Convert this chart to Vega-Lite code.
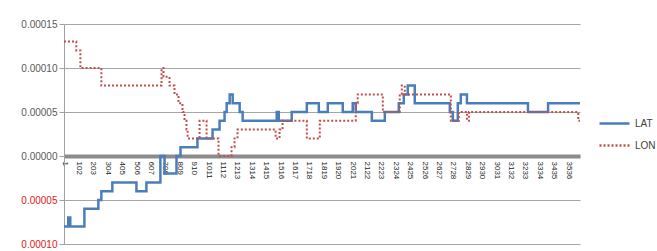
{
  "$schema": "https://vega.github.io/schema/vega-lite/v6.json",
  "autosize": "none",
  "width": 516,
  "height": 220,
  "padding": {"left": 64, "top": 24, "right": 77, "bottom": 7},
  "background": "white",
  "config": {
    "view": {"stroke": null},
    "font": "Liberation Sans",
    "axis": {"labelFont": "Liberation Sans"},
    "axisX": {"labelOverlap": false, "labelSeparation": 0},
    "legend": {"labelFont": "Liberation Sans"}
  },
  "datasets": {
    "lat": [
      {"idx": 1, "value": -0.00008}, {"idx": 31, "value": -0.00007}, {"idx": 45, "value": -0.00008},
      {"idx": 144, "value": -0.00006}, {"idx": 242, "value": -0.00005}, {"idx": 263, "value": -0.00004},
      {"idx": 340, "value": -0.00003}, {"idx": 509, "value": -0.00004}, {"idx": 579, "value": -0.00003},
      {"idx": 677, "value": 0}, {"idx": 706, "value": -0.00002}, {"idx": 790, "value": 0},
      {"idx": 818, "value": 0.00001}, {"idx": 937, "value": 0.00002}, {"idx": 1043, "value": 0.00003},
      {"idx": 1092, "value": 0.00004}, {"idx": 1127, "value": 0.00005}, {"idx": 1142, "value": 0.00006},
      {"idx": 1163, "value": 0.00007}, {"idx": 1184, "value": 0.00006}, {"idx": 1233, "value": 0.00005},
      {"idx": 1254, "value": 0.00004}, {"idx": 1493, "value": 0.00005}, {"idx": 1507, "value": 0.00004},
      {"idx": 1598, "value": 0.00005}, {"idx": 1704, "value": 0.00006}, {"idx": 1788, "value": 0.00005},
      {"idx": 1851, "value": 0.00006}, {"idx": 1956, "value": 0.00005}, {"idx": 2026, "value": 0.00006},
      {"idx": 2047, "value": 0.00005}, {"idx": 2160, "value": 0.00004}, {"idx": 2251, "value": 0.00005},
      {"idx": 2349, "value": 0.00006}, {"idx": 2384, "value": 0.00007}, {"idx": 2412, "value": 0.00008},
      {"idx": 2461, "value": 0.00006}, {"idx": 2707, "value": 0.00005}, {"idx": 2728, "value": 0.00004},
      {"idx": 2763, "value": 0.00006}, {"idx": 2784, "value": 0.00007}, {"idx": 2827, "value": 0.00006},
      {"idx": 3255, "value": 0.00005}, {"idx": 3396, "value": 0.00006}, {"idx": 3620, "value": 0.00006}
    ],
    "lon": [
      {"idx": 1, "value": 0.00013}, {"idx": 87, "value": 0.00012}, {"idx": 116, "value": 0.0001},
      {"idx": 263, "value": 0.00008}, {"idx": 685, "value": 0.0001}, {"idx": 699, "value": 0.00009},
      {"idx": 741, "value": 0.00008}, {"idx": 776, "value": 0.00007}, {"idx": 804, "value": 0.00006},
      {"idx": 832, "value": 0.00005}, {"idx": 846, "value": 0.00004}, {"idx": 860, "value": 0.00003},
      {"idx": 868, "value": 0.00002}, {"idx": 952, "value": 0.00004}, {"idx": 1001, "value": 0.00002},
      {"idx": 1085, "value": 0}, {"idx": 1176, "value": 0.00001}, {"idx": 1197, "value": 0.00002},
      {"idx": 1218, "value": 0.00003}, {"idx": 1485, "value": 0.00002}, {"idx": 1513, "value": 0.00003},
      {"idx": 1534, "value": 0.00004}, {"idx": 1704, "value": 0.00002}, {"idx": 1795, "value": 0.00004},
      {"idx": 2047, "value": 0.00006}, {"idx": 2061, "value": 0.00007}, {"idx": 2237, "value": 0.00005},
      {"idx": 2356, "value": 0.00007}, {"idx": 2370, "value": 0.00008}, {"idx": 2391, "value": 0.00007},
      {"idx": 2714, "value": 0.00004}, {"idx": 2770, "value": 0.00005}, {"idx": 2827, "value": 0.00004},
      {"idx": 2841, "value": 0.00005}, {"idx": 3608, "value": 0.00004}, {"idx": 3620, "value": 0.00004}
    ]
  },
  "encoding": {
    "x": {
      "field": "idx", "type": "quantitative",
      "scale": {"domain": [1, 3620], "nice": false, "zero": false},
      "axis": {
        "title": null,
        "orient": "bottom",
        "offset": -88,
        "values": [1,102,203,304,405,506,607,708,809,910,1011,1112,1213,1314,1415,1516,1617,1718,1819,1920,2021,2122,2223,2324,2425,2526,2627,2728,2829,2930,3031,3132,3233,3334,3435,3536],
        "labelAngle": 90,
        "labelFontSize": 8,
        "labelColor": "#222222",
        "labelPadding": 5,
        "labelOverlap": false,
        "labelSeparation": 0,
        "labelFlush": false,
        "labelBound": false,
        "ticks": false,
        "grid": false,
        "domainColor": "#8c8c8c",
        "domainWidth": 4,
        "format": "d"
      }
    },
    "y": {
      "field": "value", "type": "quantitative",
      "scale": {"domain": [-0.0001, 0.00015], "nice": false, "zero": false},
      "axis": {
        "title": null,
        "values": [-0.0001, -0.00005, 0, 0.00005, 0.0001, 0.00015],
        "labelExpr": "format(abs(datum.value), '.5f')",
        "labelColor": {"condition": {"test": "datum.value < 0", "value": "#e02020"}, "value": "#595959"},
        "labelFontSize": 10,
        "labelPadding": 2,
        "tickSize": 5,
        "tickColor": "#a0a0a0",
        "domainColor": "#a0a0a0",
        "gridColor": "#a6a6a6",
        "gridWidth": 1
      }
    },
    "color": {
      "field": "series", "type": "nominal",
      "scale": {"domain": ["LAT", "LON"], "range": ["#4A7EBB", "#C0504D"]},
      "legend": {
        "title": null,
        "orient": "none",
        "legendX": 534,
        "legendY": 83,
        "symbolType": "stroke",
        "symbolSize": 900,
        "symbolStrokeWidth": 2.5,
        "labelFontSize": 10,
        "labelColor": "#404040",
        "rowPadding": 0
      }
    },
    "strokeDash": {
      "field": "series", "type": "nominal",
      "scale": {"domain": ["LAT", "LON"], "range": [[1, 0], [2, 2]]},
      "legend": {
        "title": null,
        "orient": "none",
        "legendX": 534,
        "legendY": 83,
        "symbolType": "stroke",
        "symbolSize": 900,
        "symbolStrokeWidth": 2.5,
        "labelFontSize": 10,
        "labelColor": "#404040",
        "rowPadding": 0
      }
    }
  },
  "layer": [
    {
      "data": {"name": "lat"},
      "transform": [{"calculate": "'LAT'", "as": "series"}],
      "mark": {"type": "line", "interpolate": "step-after", "strokeWidth": 2.5}
    },
    {
      "data": {"name": "lon"},
      "transform": [{"calculate": "'LON'", "as": "series"}],
      "mark": {"type": "line", "interpolate": "step-after", "strokeWidth": 2}
    }
  ]
}
